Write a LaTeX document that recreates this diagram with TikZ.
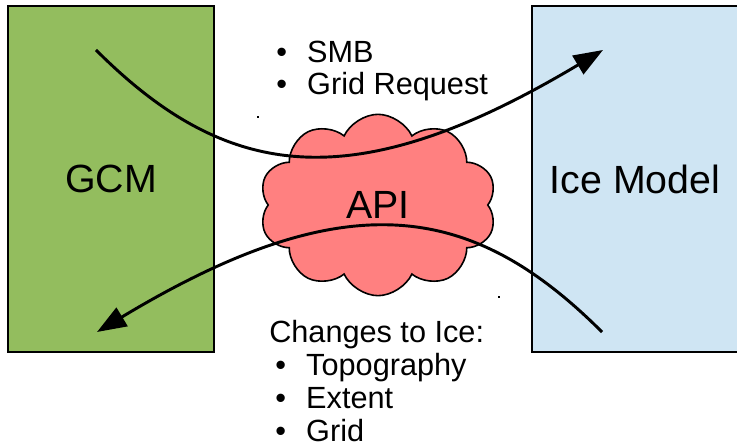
\documentclass[tikz,border=0pt]{standalone}
\usepackage{fontspec}
\setmainfont{Liberation Sans}
\usetikzlibrary{shapes.symbols,arrows.meta}
\definecolor{gcmgreen}{HTML}{93BD5E}
\definecolor{iceblue}{HTML}{CFE5F3}
\definecolor{apired}{HTML}{FF8080}
\begin{document}
\begin{tikzpicture}[x=0.75pt,y=-0.75pt,
  modelbox/.style={draw=black,line width=1.4pt,minimum width=154.5pt,minimum height=259.5pt,inner sep=0pt,
    font=\fontsize{29.5}{35}\selectfont},
  flow/.style={line width=2.2pt,-{Triangle[length=22pt,width=16pt]}},
  listtext/.style={font=\fontsize{23}{27}\selectfont,anchor=base west,inner sep=0pt}]
\useasboundingbox (0,0) rectangle (737,448);
\fill[white] (0,0) rectangle (737,448);

% the two models
\node[modelbox,fill=gcmgreen] (gcm) at (111,179) {GCM};
\node[modelbox,fill=iceblue] (ice) at (635,179) {Ice Model};

% coupling layer
\node[cloud,cloud puffs=10,cloud puff arc=130,cloud ignores aspect,draw=black,line width=1.2pt,fill=apired,
  minimum width=178pt,minimum height=136pt,inner sep=0pt,
  font=\fontsize{29.5}{35}\selectfont] (api) at (378,205) {API};

% data flows
\coordinate (smbStart) at (96,50);
\coordinate (smbEnd) at (603,50);
\coordinate (iceStart) at (602,332);
\coordinate (iceEnd) at (97,332);
\draw[flow] (smbStart) .. controls (226,180) and (352,200) .. (smbEnd);
\draw[flow] (iceStart) .. controls (472,202) and (346,182) .. (iceEnd);

% small markers
\fill (257,116) rectangle (259,118);
\fill (498,296) rectangle (500,298);

% flow contents
\node[listtext] (smb) at (276,63) {\makebox[23.25pt][l]{\textbullet}SMB};
\node[listtext] (gridreq) at (276,95) {\makebox[23.25pt][l]{\textbullet}Grid Request};
\node[listtext] (changes) at (269,342) {Changes to Ice:};
\node[listtext] (topo) at (275,375) {\makebox[23.25pt][l]{\textbullet}Topography};
\node[listtext] (extent) at (275,408) {\makebox[23.25pt][l]{\textbullet}Extent};
\node[listtext] (grid) at (275,441) {\makebox[23.25pt][l]{\textbullet}Grid};
\end{tikzpicture}
\end{document}
